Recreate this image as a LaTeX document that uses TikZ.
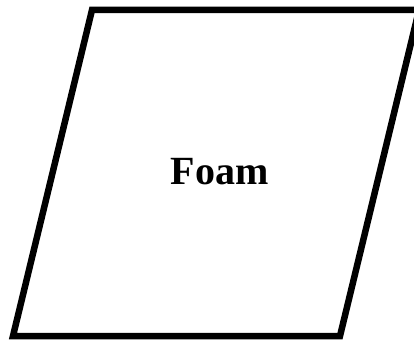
\documentclass[tikz,border=0pt]{standalone}
\usepackage{fontspec}
\setmainfont{Liberation Serif}
\begin{document}
\begin{tikzpicture}[x=1pt,y=1pt,
  shapeline/.style={line width=6.5pt, line join=miter, draw=black},
  labeltext/.style={font=\bfseries\fontsize{40}{48}\selectfont, inner sep=0pt, anchor=base}]
\useasboundingbox (0,0) rectangle (414,341);
\clip (0,0) rectangle (414,341);
\coordinate (tl) at (92,331);
\coordinate (tr) at (419,331);
\coordinate (br) at (340,5);
\coordinate (bl) at (13,5);
\draw[shapeline] (tl) -- (tr) -- (br) -- (bl) -- cycle;
\node[labeltext] (foam) at (219.5,157) {Foam};
\end{tikzpicture}
\end{document}
